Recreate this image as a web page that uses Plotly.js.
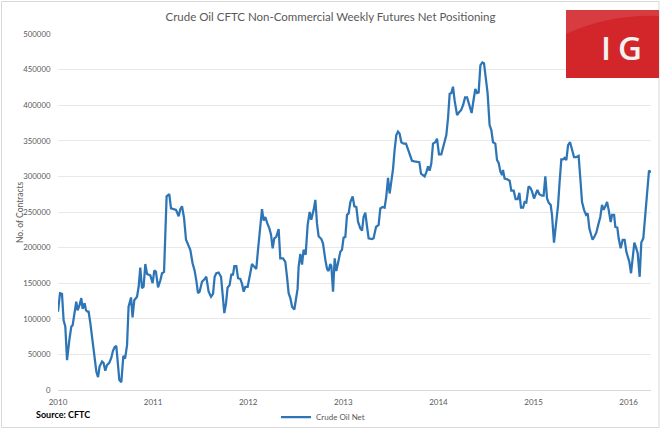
<!DOCTYPE html>
<html>
<head>
<meta charset="utf-8">
<script src="https://cdn.plot.ly/plotly-3.0.1.min.js"></script>
<style>
html,body{margin:0;padding:0;background:#fff;}
#chart{width:661px;height:432px;}
</style>
</head>
<body>
<div id="chart"></div>
<script>
// Time as decimal years, net positions in contracts
var years = [
2010.000,2010.021,2010.042,2010.059,2010.077,2010.095,2010.119,2010.140,2010.154,2010.175,
2010.192,2010.206,2010.224,2010.245,2010.259,2010.280,2010.294,2010.311,2010.322,2010.340,
2010.364,2010.385,2010.403,2010.421,2010.437,2010.463,2010.479,2010.497,2010.515,2010.539,
2010.560,2010.578,2010.595,2010.613,2010.631,2010.645,2010.666,2010.687,2010.705,2010.726,
2010.742,2010.768,2010.784,2010.802,2010.831,2010.848,2010.865,2010.883,2010.900,2010.918,
2010.936,2010.953,2010.971,2010.995,2011.013,2011.030,2011.052,2011.076,2011.094,2011.115,
2011.128,2011.142,2011.170,2011.188,2011.216,2011.241,2011.268,2011.286,2011.304,2011.325,
2011.346,2011.373,2011.391,2011.415,2011.436,2011.454,2011.472,2011.489,2011.514,2011.542,
2011.559,2011.584,2011.609,2011.630,2011.647,2011.665,2011.689,2011.714,2011.731,2011.749,
2011.767,2011.783,2011.804,2011.822,2011.840,2011.854,2011.875,2011.893,2011.917,2011.935,
2011.952,2011.970,2011.994,2012.015,2012.040,2012.057,2012.085,2012.103,2012.127,2012.145,
2012.162,2012.180,2012.198,2012.222,2012.240,2012.257,2012.274,2012.295,2012.320,2012.337,
2012.366,2012.390,2012.408,2012.425,2012.443,2012.461,2012.485,2012.503,2012.519,2012.530,
2012.548,2012.566,2012.582,2012.604,2012.625,2012.646,2012.663,2012.688,2012.706,2012.723,
2012.740,2012.769,2012.786,2012.811,2012.829,2012.845,2012.863,2012.874,2012.892,2012.909,
2012.926,2012.944,2012.968,2012.986,2013.003,2013.021,2013.039,2013.056,2013.074,2013.098,
2013.116,2013.137,2013.155,2013.179,2013.197,2013.213,2013.231,2013.249,2013.266,2013.302,
2013.318,2013.344,2013.371,2013.389,2013.413,2013.434,2013.452,2013.470,2013.487,2013.505,
2013.523,2013.539,2013.557,2013.575,2013.592,2013.610,2013.634,2013.659,2013.680,2013.704,
2013.722,2013.747,2013.775,2013.799,2013.817,2013.838,2013.855,2013.873,2013.891,2013.907,
2013.925,2013.943,2013.967,2013.985,2014.006,2014.030,2014.055,2014.083,2014.101,2014.118,
2014.136,2014.153,2014.170,2014.196,2014.217,2014.238,2014.259,2014.280,2014.301,2014.325,
2014.349,2014.370,2014.388,2014.406,2014.423,2014.441,2014.462,2014.479,2014.496,2014.517,
2014.538,2014.556,2014.574,2014.598,2014.616,2014.633,2014.651,2014.669,2014.679,2014.696,
2014.721,2014.749,2014.766,2014.791,2014.812,2014.833,2014.851,2014.868,2014.890,2014.906,
2014.924,2014.948,2014.966,2014.984,2015.005,2015.026,2015.040,2015.061,2015.089,2015.106,
2015.124,2015.142,2015.159,2015.180,2015.194,2015.215,2015.236,2015.258,2015.274,2015.292,
2015.310,2015.327,2015.345,2015.363,2015.384,2015.405,2015.426,2015.447,2015.474,2015.492,
2015.510,2015.531,2015.552,2015.569,2015.587,2015.605,2015.621,2015.642,2015.660,2015.684,
2015.702,2015.720,2015.737,2015.755,2015.773,2015.790,2015.811,2015.826,2015.847,2015.860,
2015.881,2015.895,2015.916,2015.937,2015.958,2015.976,2015.994,2016.007,2016.025,2016.042,
2016.060,2016.078,2016.095,2016.116,2016.133,2016.154,2016.176,2016.193,2016.214,2016.235
];
var crudeOilNet = [
110000,136000,135000,98000,89000,42000,70000,89000,91000,110000,
124000,112000,118000,129000,114000,122000,112000,110000,110000,94000,
66000,40000,26000,18000,33000,40000,38000,27000,35000,38000,
45000,55000,60000,62000,28000,14000,11000,48000,44000,63000,
117000,130000,102000,126000,131000,145000,172000,143000,145000,177000,
163000,162000,161000,150000,168000,166000,144000,154000,164000,166000,
225000,272000,275000,255000,254000,253000,244000,254000,258000,242000,
211000,201000,197000,178000,168000,154000,136000,138000,152000,156000,
159000,138000,131000,135000,159000,164000,165000,159000,136000,108000,
122000,144000,147000,162000,162000,174000,174000,157000,156000,149000,
138000,145000,145000,162000,177000,174000,170000,197000,232000,254000,
238000,243000,235000,227000,218000,199000,213000,215000,226000,185000,
185000,180000,159000,136000,129000,117000,113000,126000,142000,173000,
191000,176000,197000,190000,232000,250000,239000,253000,267000,234000,
216000,212000,206000,183000,170000,167000,177000,174000,138000,185000,
167000,178000,194000,197000,214000,215000,246000,248000,264000,272000,
258000,257000,236000,227000,224000,243000,249000,230000,213000,212000,
213000,229000,232000,255000,257000,256000,272000,298000,276000,293000,
311000,337000,358000,363000,360000,348000,346000,346000,338000,330000,
322000,321000,321000,320000,304000,302000,300000,306000,314000,308000,
318000,346000,348000,353000,331000,331000,342000,358000,382000,416000,
417000,426000,407000,386000,390000,393000,400000,411000,411000,400000,
389000,408000,423000,417000,418000,456000,460000,459000,442000,417000,
372000,365000,348000,346000,323000,319000,307000,302000,309000,297000,
296000,294000,280000,280000,268000,268000,277000,256000,256000,264000,
263000,286000,284000,279000,269000,277000,281000,275000,273000,273000,
300000,269000,263000,260000,246000,207000,234000,260000,292000,324000,
324000,326000,323000,344000,348000,337000,327000,327000,329000,297000,
264000,253000,246000,248000,227000,218000,211000,216000,221000,234000,
243000,260000,253000,258000,264000,253000,236000,246000,246000,229000,
228000,213000,199000,211000,211000,194000,187000,180000,164000,183000,
207000,200000,192000,159000,207000,213000,246000,274000,308000,306000
];
var yearTicks = [2010, 2011, 2012, 2013, 2014, 2015, 2016];
var yearLabels = ['2010', '2011', '2012', '2013', '2014', '2015', '2016'];
var seriesName = 'Crude Oil Net';

var font = 'Lato, "Open Sans", sans-serif';
var grey = '#595959';

var trace = {
  x: years,
  y: crudeOilNet,
  type: 'scatter',
  mode: 'lines',
  name: seriesName,
  line: {color: '#2e75b6', width: 2.25},
  hoverinfo: 'x+y'
};

var layout = {
  width: 661,
  height: 432,
  autosize: false,
  margin: {l: 58, r: 10, t: 34, b: 42, autoexpand: false},
  paper_bgcolor: '#ffffff',
  plot_bgcolor: '#ffffff',
  font: {family: font, color: grey, size: 8},
  title: {
    text: 'Crude Oil CFTC Non-Commercial Weekly Futures Net Positioning',
    font: {family: font, size: 11.5, color: grey},
    x: 0.5, xanchor: 'center', xref: 'container',
    y: 1 - 17/432, yanchor: 'middle', yref: 'container'
  },
  xaxis: {
    range: [years[0], years[years.length - 1]],
    tickmode: 'array',
    tickvals: yearTicks,
    ticktext: yearLabels,
    showgrid: false,
    zeroline: false,
    showline: true,
    linecolor: '#d9d9d9',
    linewidth: 1,
    ticks: 'outside',
    ticklen: 4,
    tickcolor: 'rgba(0,0,0,0)',
    tickfont: {family: font, size: 8, color: grey},
    automargin: false,
    fixedrange: true
  },
  yaxis: {
    range: [0, 500000],
    dtick: 50000,
    tick0: 0,
    tickformat: 'd',
    showgrid: true,
    gridcolor: '#e8e8e8',
    gridwidth: 1,
    zeroline: false,
    showline: false,
    ticks: 'outside',
    ticklen: 5,
    tickcolor: 'rgba(0,0,0,0)',
    tickfont: {family: font, size: 7.8, color: grey},
    automargin: false,
    fixedrange: true
  },
  showlegend: true,
  legend: {
    orientation: 'h',
    x: (323 - 58) / 593, xanchor: 'center',
    y: (390 - 417) / 356, yanchor: 'middle',
    font: {family: font, size: 8, color: grey},
    bgcolor: 'rgba(0,0,0,0)'
  },
  annotations: [
    {
      text: 'No. of Contracts',
      xref: 'paper', yref: 'paper',
      x: (13 - 58) / 593, y: 0.5,
      textangle: -90,
      showarrow: false,
      font: {family: font, size: 8.5, color: grey}
    },
    {
      text: 'Source: CFTC',
      xref: 'paper', yref: 'paper',
      x: (34 - 58) / 593, xanchor: 'left',
      y: (390 - 414) / 356, yanchor: 'middle',
      showarrow: false,
      font: {family: font, size: 9, color: '#000000', weight: 'bold'}
    },
    {
      text: 'I',
      xref: 'paper', yref: 'paper',
      x: (606 - 58) / 593, xanchor: 'center',
      y: (390 - 47) / 356, yanchor: 'middle',
      showarrow: false,
      font: {family: '"Open Sans", sans-serif', size: 33, color: '#f2f2f2', weight: 600}
    },
    {
      text: 'G',
      xref: 'paper', yref: 'paper',
      x: (630 - 58) / 593, xanchor: 'center',
      y: (390 - 47) / 356, yanchor: 'middle',
      showarrow: false,
      font: {family: '"Open Sans", sans-serif', size: 33, color: '#f2f2f2', weight: 600}
    }
  ],
  shapes: [
    {
      type: 'rect', xref: 'paper', yref: 'paper', layer: 'below',
      x0: (1.5 - 58) / 593, x1: (659 - 58) / 593,
      y0: (390 - 427.5) / 356, y1: (390 - 1.5) / 356,
      line: {color: '#d9d9d9', width: 1},
      fillcolor: 'rgba(0,0,0,0)'
    },
    {
      type: 'rect', xref: 'paper', yref: 'paper', layer: 'above',
      x0: (566 - 58) / 593, x1: (659 - 58) / 593,
      y0: (390 - 78) / 356, y1: (390 - 10) / 356,
      line: {width: 0},
      fillcolor: '#d2262b'
    },
    {
      type: 'path', xref: 'paper', yref: 'paper', layer: 'above',
      path: 'M ' + ((566 - 58) / 593) + ' ' + ((390 - 10) / 356) +
            ' L ' + ((659 - 58) / 593) + ' ' + ((390 - 10) / 356) +
            ' L ' + ((659 - 58) / 593) + ' ' + ((390 - 16) / 356) +
            ' Q ' + ((610 - 58) / 593) + ' ' + ((390 - 14) / 356) + ' ' +
            ((566 - 58) / 593) + ' ' + ((390 - 34) / 356) + ' Z',
      line: {width: 0},
      fillcolor: 'rgba(255,255,255,0.10)'
    }
  ]
};

Plotly.newPlot('chart', [trace], layout, {displayModeBar: false, staticPlot: true});
</script>
</body>
</html>
